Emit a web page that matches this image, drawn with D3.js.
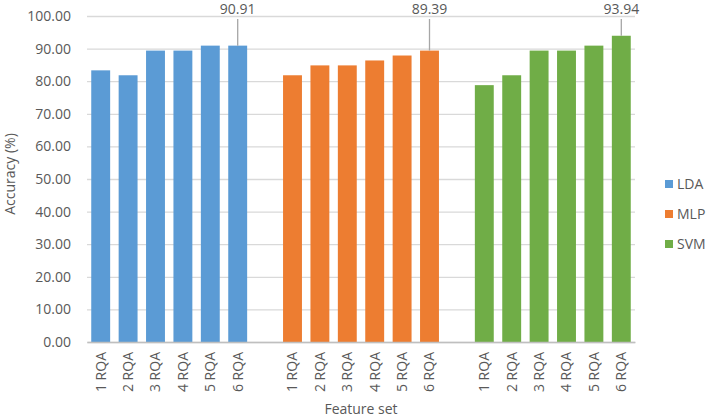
<!DOCTYPE html>
<html>
<head>
<meta charset="utf-8">
<script src="https://cdn.jsdelivr.net/npm/d3@7"></script>
<style>
  body { margin: 0; background: #fff; }
  text { font-family: "Open Sans", sans-serif; fill: #595959; }
</style>
</head>
<body>
<svg id="chart" width="709" height="419"></svg>
<script>
// data
const models = ["LDA", "MLP", "SVM"];
const features = ["1 RQA", "2 RQA", "3 RQA", "4 RQA", "5 RQA", "6 RQA"];
const lda = [83.33, 81.82, 89.39, 89.39, 90.91, 90.91];
const mlp = [81.82, 84.85, 84.85, 86.36, 87.88, 89.39];
const svm = [78.79, 81.82, 89.39, 89.39, 90.91, 93.94];
const labelled = [5, 5, 5]; // index of the bar carrying a data label in each group
const yTicks = [0, 10, 20, 30, 40, 50, 60, 70, 80, 90, 100];

const colors = {LDA: "#5B9BD5", MLP: "#ED7D31", SVM: "#70AD47"};

let width = 709,
    height = 419,
    margins = {top: 16, bottom: 77, left: 87, right: 74};

let svg = d3.select("#chart");

// build the slot list: 6 bars per model, one empty slot between groups
let slots = [], bars = [];
[lda, mlp, svm].forEach(function (vals, g) {
    vals.forEach(function (v, i) {
        let key = g + "-" + i;
        slots.push(key);
        bars.push({key: key, model: models[g], feature: features[i], value: v, label: labelled[g] == i});
    });
    if (g < models.length - 1) slots.push("gap" + g);
});

let x = d3.scaleBand()
    .domain(slots)
    .range([margins.left, width - margins.right])
    .paddingInner(0.31)
    .paddingOuter(0.155);

let y = d3.scaleLinear()
    .domain([0, 100])
    .range([height - margins.bottom, margins.top]);

// gridlines + y tick labels
let yAxis = svg.append("g")
    .attr("transform", `translate(${margins.left},0)`)
    .call(d3.axisLeft(y).tickValues(yTicks).tickFormat(d3.format(".2f"))
        .tickSize(-(width - margins.left - margins.right)).tickPadding(16));
yAxis.select(".domain").remove();
yAxis.selectAll("line").attr("stroke", "#D9D9D9").attr("stroke-width", 1.3);
yAxis.selectAll("text").style("font-size", "14px").attr("fill", "#595959").style("font-family", "'Open Sans', sans-serif");

// bars
svg.append("g")
    .selectAll("rect")
    .data(bars)
    .enter()
    .append("rect")
    .attr("x", d => x(d.key))
    .attr("width", x.bandwidth())
    .attr("y", d => y(d.value))
    .attr("height", d => y(0) - y(d.value))
    .attr("fill", d => colors[d.model]);

// bottom axis
let xAxis = svg.append("g")
    .attr("transform", `translate(0,${y(0)})`)
    .call(d3.axisBottom(x).tickSize(0)
        .tickFormat(k => { let b = bars.find(d => d.key == k); return b ? b.feature : ""; }));
xAxis.select(".domain").attr("stroke", "#BFBFBF").attr("stroke-width", 1.3);
xAxis.selectAll("text")
    .style("font-size", "14px")
    .style("font-family", "'Open Sans', sans-serif")
    .attr("fill", "#595959")
    .attr("text-anchor", "end")
    .attr("transform", "rotate(-90)")
    .attr("x", -10)
    .attr("y", 0)
    .attr("dy", "0.35em");

// data labels with leader lines
let lab = svg.append("g").selectAll("g")
    .data(bars.filter(d => d.label))
    .enter().append("g");
lab.append("line")
    .attr("x1", d => x(d.key) + x.bandwidth() / 2)
    .attr("x2", d => x(d.key) + x.bandwidth() / 2)
    .attr("y1", d => y(d.value))
    .attr("y2", 19)
    .attr("stroke", "#A6A6A6")
    .attr("stroke-width", 1.3);
lab.append("text")
    .attr("x", d => x(d.key) + x.bandwidth() / 2)
    .attr("y", 14)
    .attr("text-anchor", "middle")
    .style("font-size", "14px")
    .text(d => d.value.toFixed(2));

// axis titles
svg.append("text")
    .attr("transform", `translate(15,${(y(0) + y(100)) / 2 - 5}) rotate(-90)`)
    .attr("text-anchor", "middle")
    .style("font-size", "14px")
    .text("Accuracy (%)");

svg.append("text")
    .attr("x", 361)
    .attr("y", 414)
    .attr("text-anchor", "middle")
    .style("font-size", "14px")
    .text("Feature set");

// legend
let legend = svg.append("g").selectAll("g")
    .data(models)
    .enter().append("g")
    .attr("transform", (d, i) => `translate(665,${184 + i * 30})`);
legend.append("rect")
    .attr("x", 0).attr("y", -4)
    .attr("width", 8).attr("height", 8)
    .attr("fill", d => colors[d]);
legend.append("text")
    .attr("x", 12)
    .attr("dy", "0.35em")
    .style("font-size", "14px")
    .text(d => d);
</script>
</body>
</html>
